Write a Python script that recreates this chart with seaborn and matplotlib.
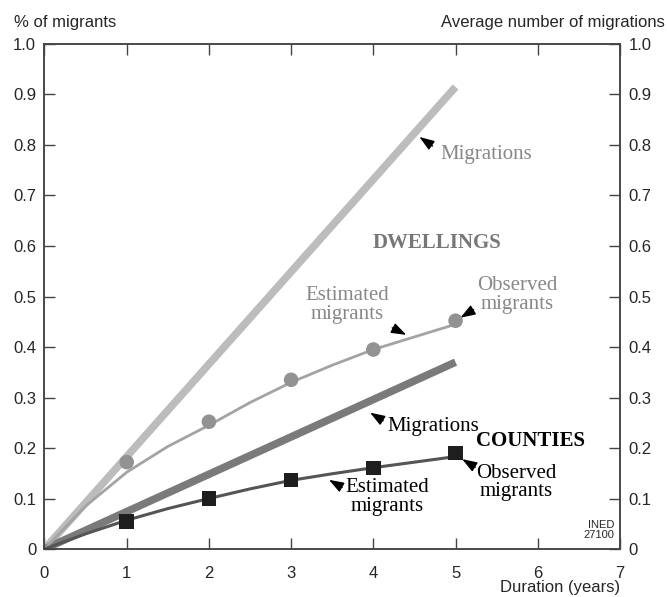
import pandas as pd
import matplotlib
matplotlib.use("Agg")
import matplotlib.pyplot as plt
import seaborn as sns

# durations with observed points
years = [1, 2, 3, 4, 5]
dwell_observed = [0.172, 0.252, 0.335, 0.395, 0.452]
county_observed = [0.055, 0.100, 0.137, 0.160, 0.190]

# estimated curves
est_x = [0, 0.5, 1, 1.5, 2, 2.5, 3, 3.5, 4, 4.5, 5]
dwell_estimated = [0, 0.085, 0.152, 0.203, 0.245, 0.290, 0.330, 0.364, 0.395, 0.420, 0.445]
county_estimated = [0, 0.030, 0.057, 0.080, 0.100, 0.119, 0.136, 0.149, 0.161, 0.172, 0.183]

# average number of migrations (straight lines)
mig_x = [0, 5]
dwell_migrations = [0, 0.915]
county_migrations = [0, 0.37]

sns.set_style("ticks")
plt.rcParams['font.family'] = ['Liberation Sans', 'DejaVu Sans']

fig = plt.figure(figsize=(6.67, 5.97), dpi=100)
ax = fig.add_axes([0.0667, 0.0804, 0.8628, 0.8459])

light = '#bcbcbc'
mid = '#7a7a7a'

sns.lineplot(x=mig_x, y=dwell_migrations, ax=ax, color=light, lw=5.5, solid_capstyle='butt')
sns.lineplot(x=mig_x, y=county_migrations, ax=ax, color=mid, lw=5.5, solid_capstyle='butt')
sns.lineplot(x=est_x, y=dwell_estimated, ax=ax, color='#a3a3a3', lw=2)
sns.lineplot(x=est_x, y=county_estimated, ax=ax, color='#555555', lw=2.2)
sns.scatterplot(x=years, y=dwell_observed, ax=ax, color='#929292', s=110, marker='o',
                edgecolor='none', zorder=5)
sns.scatterplot(x=years, y=county_observed, ax=ax, color='#1e1e1e', s=110, marker='s',
                edgecolor='none', zorder=5)

ax.set_xlim(0, 7)
ax.set_ylim(0, 1.0)
ax.set_xticks(range(8))
yt = [i / 10 for i in range(11)]
ylabels = ['0'] + [f'{v:.1f}' for v in yt[1:]]
ax.set_yticks(yt)
ax.set_yticklabels(ylabels)
ax.tick_params(direction='in', length=8, width=1, color='#444444', labelsize=12,
               top=True, pad=6)
ax.tick_params(axis='x', pad=12)

ax2 = ax.twinx()
ax2.set_ylim(0, 1.0)
ax2.set_yticks(yt)
ax2.set_yticklabels(ylabels)
ax2.tick_params(direction='in', length=8, width=1, color='#444444', labelsize=12, pad=6)

for a in (ax, ax2):
    for s in a.spines.values():
        s.set_visible(True)
        s.set_color('#444444')
        s.set_linewidth(1.1)

fig.text(0.021, 0.963, '% of migrants', fontsize=12, ha='left', va='center')
fig.text(0.997, 0.963, 'Average number of migrations', fontsize=12, ha='right', va='center')
fig.text(0.93, 0.003, 'Duration (years)', fontsize=12, ha='right', va='bottom')

serif = ['Liberation Serif', 'DejaVu Serif']
arrow = dict(arrowstyle='-|>,head_length=0.9,head_width=0.32', color='black', lw=1,
             shrinkA=0, shrinkB=0)

def simple(text, pos, color, ha='left'):
    ax.text(pos[0], pos[1], text, fontsize=15, family=serif, color=color, ha=ha,
            va='center', linespacing=0.95)

def pointer(tip, tail):
    ax.annotate('', xy=tip, xytext=tail, arrowprops=arrow)

# dwellings
simple('Migrations', (4.81, 0.781), '#888888')
pointer((4.56, 0.816), (4.72, 0.798))
ax.text(4.77, 0.606, 'DWELLINGS', fontsize=15, family=serif, color='#777777',
        weight='bold', ha='center', va='center')
simple('Estimated\nmigrants', (3.68, 0.483), '#888888', ha='center')
pointer((4.40, 0.424), (4.23, 0.438))
simple('Observed\nmigrants', (5.75, 0.503), '#888888', ha='center')
pointer((5.06, 0.458), (5.22, 0.474))

# counties
simple('Migrations', (4.17, 0.243), 'black')
pointer((3.96, 0.27), (4.12, 0.254))
ax.text(5.91, 0.214, 'COUNTIES', fontsize=15, family=serif, color='black',
        weight='bold', ha='center', va='center')
simple('Observed\nmigrants', (5.74, 0.131), 'black', ha='center')
pointer((5.08, 0.178), (5.24, 0.162))
simple('Estimated\nmigrants', (4.17, 0.103), 'black', ha='center')
pointer((3.46, 0.137), (3.62, 0.122))

ax.text(6.93, 0.018, 'INED\n27100', fontsize=8, ha='right', va='bottom', linespacing=0.95)

ax.set_xlabel('')
ax.set_ylabel('')
ax2.set_ylabel('')

fig.savefig('out.png', dpi=100)
